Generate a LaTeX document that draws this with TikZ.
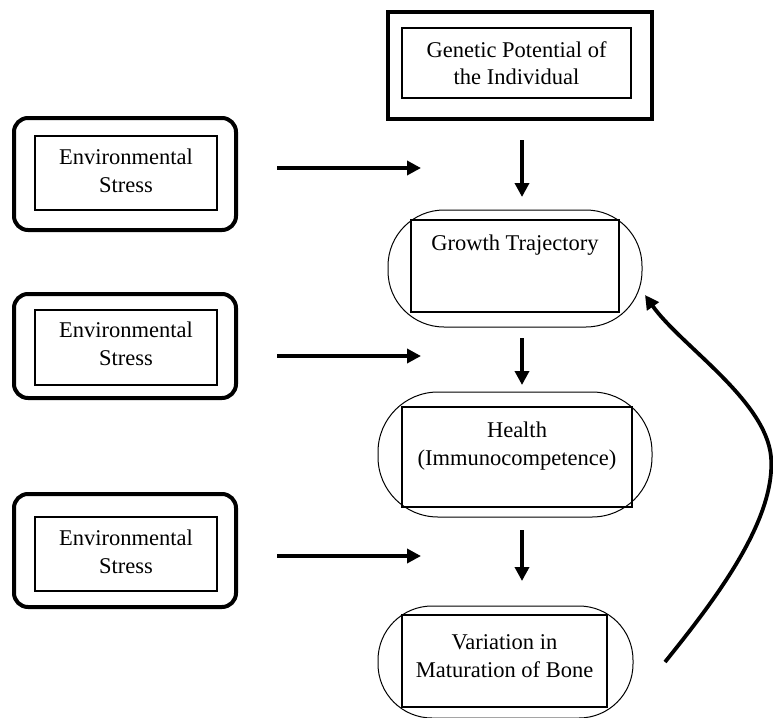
\documentclass[tikz,border=0pt]{standalone}
\usepackage{fontspec}
\setmainfont{Liberation Serif}
\usetikzlibrary{arrows.meta}
\begin{document}
\begin{tikzpicture}[x=1pt,y=-1pt,
  outerbox/.style={draw,line width=4pt,minimum width=#1,inner sep=0pt},
  envouter/.style={draw,line width=4pt,rounded corners=14pt,inner sep=0pt},
  innerbox/.style={draw,line width=1.1pt,inner sep=0pt},
  stadium/.style={draw,line width=1pt,inner sep=0pt},
  lbl/.style={font=\fontsize{22.5}{27.5}\selectfont,align=center,inner sep=0pt},
  arr/.style={line width=3.6pt,-{Triangle[length=14pt,width=14pt]}}]
\useasboundingbox (0,0) rectangle (773,717);
% Genetic potential
\node[outerbox=264pt,minimum height=107pt] (gen) at (520,65.5) {};
\node[innerbox,minimum width=229pt,minimum height=70pt] (geni) at (516.5,63) {};
\node[lbl] (gent) at (516.5,63) {Genetic Potential of\\the Individual};
% Environmental stress boxes
\node[envouter,minimum width=222pt,minimum height=112pt] (e1) at (125,174) {};
\node[innerbox,minimum width=182pt,minimum height=74pt] (e1i) at (126,173) {};
\node[lbl] (e1t) at (126,171) {Environmental\\Stress};
\node[envouter,minimum width=222pt,minimum height=104pt] (e2) at (125,346) {};
\node[innerbox,minimum width=182pt,minimum height=75pt] (e2i) at (126,347.5) {};
\node[lbl] (e2t) at (126,344) {Environmental\\Stress};
\node[envouter,minimum width=222pt,minimum height=113pt] (e3) at (125,550.5) {};
\node[innerbox,minimum width=182pt,minimum height=74pt] (e3i) at (126,554) {};
\node[lbl] (e3t) at (126,552) {Environmental\\Stress};
% Growth trajectory
\node[stadium,minimum width=254pt,minimum height=117pt,rounded corners=56pt] (gr) at (515,268.5) {};
\node[innerbox,minimum width=208pt,minimum height=92pt] (gri) at (515,266) {};
\node[lbl] (grt) at (515,245) {Growth Trajectory};
% Health
\node[stadium,minimum width=274pt,minimum height=125pt,rounded corners=60pt] (he) at (515,454.5) {};
\node[innerbox,minimum width=230pt,minimum height=100pt] (hei) at (517,457) {};
\node[lbl] (het) at (517,446) {Health\\(Immunocompetence)};
\node[stadium,minimum width=255pt,minimum height=112pt,rounded corners=54pt] (va) at (505.5,662) {};
\node[innerbox,minimum width=205pt,minimum height=92pt] (vai) at (504.5,661) {};
\node[lbl] (vat) at (504.5,656) {Variation in\\Maturation of Bone};
% arrow end points
\coordinate (h1a) at (277,168); \coordinate (h1b) at (421,168);
\coordinate (h2a) at (277,356); \coordinate (h2b) at (421,356);
\coordinate (h3a) at (277,556); \coordinate (h3b) at (421,556);
\coordinate (v1a) at (522,140); \coordinate (v1b) at (522,197);
\coordinate (v2a) at (522,338); \coordinate (v2b) at (522,385);
\coordinate (v3a) at (522,530); \coordinate (v3b) at (522,581);
\coordinate (ca) at (665,662); \coordinate (cm) at (771,457); \coordinate (cb) at (645,295);
\draw[arr] (h1a) -- (h1b);
\draw[arr] (h2a) -- (h2b);
\draw[arr] (h3a) -- (h3b);
\draw[arr] (v1a) -- (v1b);
\draw[arr] (v2a) -- (v2b);
\draw[arr] (v3a) -- (v3b);
\draw[line width=3.8pt,-{Triangle[length=14pt,width=14pt]}] (ca) .. controls (715,600) and (776,520) .. (cm) .. controls (766,400) and (680,345) .. (cb);
\end{tikzpicture}
\end{document}
